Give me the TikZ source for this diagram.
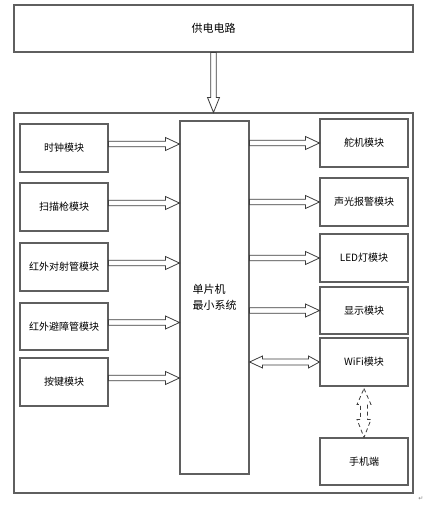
\documentclass[tikz,border=0pt]{standalone}
\usepackage{fontspec}
\setmainfont{Noto Sans CJK SC}
\newfontfamily\symfont{DejaVu Sans}
\usetikzlibrary{calc}
\definecolor{lc}{RGB}{95,95,95}
\definecolor{ac}{RGB}{60,60,60}
\begin{document}
\begin{tikzpicture}[x=1pt,y=-1pt,
  box/.style={draw=lc, line width=1.1pt, minimum width=88pt, minimum height=48pt, inner sep=0pt, font=\fontsize{10}{12}\selectfont},
  rarrow/.style={draw=ac, line width=0.8pt, to path={let \p1=(\tikztostart),\p2=(\tikztotarget) in
    (\x1,\y1+2.8pt) -- (\x2-14pt,\y1+2.8pt) -- (\x2-14pt,\y1+6.5pt) -- (\x2,\y1) -- (\x2-14pt,\y1-6.5pt) -- (\x2-14pt,\y1-2.8pt) -- (\x1,\y1-2.8pt) -- cycle}},
  darrow/.style={draw=ac, line width=0.8pt, to path={let \p1=(\tikztostart),\p2=(\tikztotarget) in
    (\x1-2.7pt,\y1) -- (\x1-2.7pt,\y2+15pt) -- (\x1-6pt,\y2+15pt) -- (\x1,\y2) -- (\x1+6pt,\y2+15pt) -- (\x1+2.7pt,\y2+15pt) -- (\x1+2.7pt,\y1) -- cycle}},
  hbiarrow/.style={draw=ac, line width=0.8pt, to path={let \p1=(\tikztostart),\p2=(\tikztotarget) in
    (\x1,\y1) -- (\x1+13pt,\y1+6pt) -- (\x1+13pt,\y1+3pt) -- (\x2-11pt,\y1+3pt) -- (\x2-11pt,\y1+6pt) -- (\x2,\y1) -- (\x2-11pt,\y1-6pt) -- (\x2-11pt,\y1-3pt) -- (\x1+13pt,\y1-3pt) -- (\x1+13pt,\y1-6pt) -- cycle}},
  vbiarrow/.style={draw=ac, line width=0.8pt, dash pattern=on 4pt off 3pt, to path={let \p1=(\tikztostart),\p2=(\tikztotarget) in
    (\x1,\y1-2pt) -- (\x1+7pt,\y1-18pt) -- (\x1+3.5pt,\y1-18pt) -- (\x1+3.5pt,\y2+18pt) -- (\x1+7pt,\y2+18pt) -- (\x1,\y2) -- (\x1-7pt,\y2+18pt) -- (\x1-3.5pt,\y2+18pt) -- (\x1-3.5pt,\y1-18pt) -- (\x1-7pt,\y1-18pt) -- cycle}}
]
\useasboundingbox (0,0) rectangle (426,505);

\node[box, minimum width=399pt, minimum height=380pt] (outer) at (213.5,303) {};
\node[box, minimum width=399pt, minimum height=47pt, font=\fontsize{11}{13}\selectfont] (power) at (213.5,28.5) {供电电路};

\node[box, minimum width=69pt, minimum height=353pt, align=left, font=\fontsize{11}{16}\selectfont] (mcu) at (214.5,297.5) {单片机\\最小系统};

\node[box] (l1) at (64,148) {时钟模块};
\node[box] (l2) at (64,207) {扫描枪模块};
\node[box] (l3) at (64,267) {红外对射管模块};
\node[box, minimum height=47pt] (l4) at (64,326.5) {红外避障管模块};
\node[box] (l5) at (64,382) {按键模块};

\node[box] (r1) at (364,143) {舵机模块};
\node[box] (r2) at (364,202) {声光报警模块};
\node[box] (r3) at (364,258) {LED灯模块};
\node[box, minimum height=47pt] (r4) at (364,310.5) {显示模块};
\node[box] (r5) at (364,362) {WiFi模块};
\node[box, minimum height=47pt] (r6) at (364,461.5) {手机端};

\draw[darrow] (power.south) to (outer.north);

\draw[rarrow] ([yshift=4pt]l1.east) to (mcu.west);
\draw[rarrow] ([yshift=4pt]l2.east) to (mcu.west);
\draw[rarrow] ([yshift=4pt]l3.east) to (mcu.west);
\draw[rarrow] ([yshift=4pt]l4.east) to (mcu.west);
\draw[rarrow] ([yshift=4pt]l5.east) to (mcu.west);

\draw[rarrow] (mcu.east |- r1.west) to (r1.west);
\draw[rarrow] (mcu.east |- r2.west) to (r2.west);
\draw[rarrow] (mcu.east |- r3.west) to (r3.west);
\draw[rarrow] (mcu.east |- r4.west) to (r4.west);
\draw[hbiarrow] (mcu.east |- r5.west) to (r5.west);
\draw[vbiarrow] (r5.south) to (r6.north);

\node[font=\symfont\fontsize{6}{6}\selectfont, text=gray, inner sep=0pt] (mark) at (421,499) {↵};
\end{tikzpicture}
\end{document}
